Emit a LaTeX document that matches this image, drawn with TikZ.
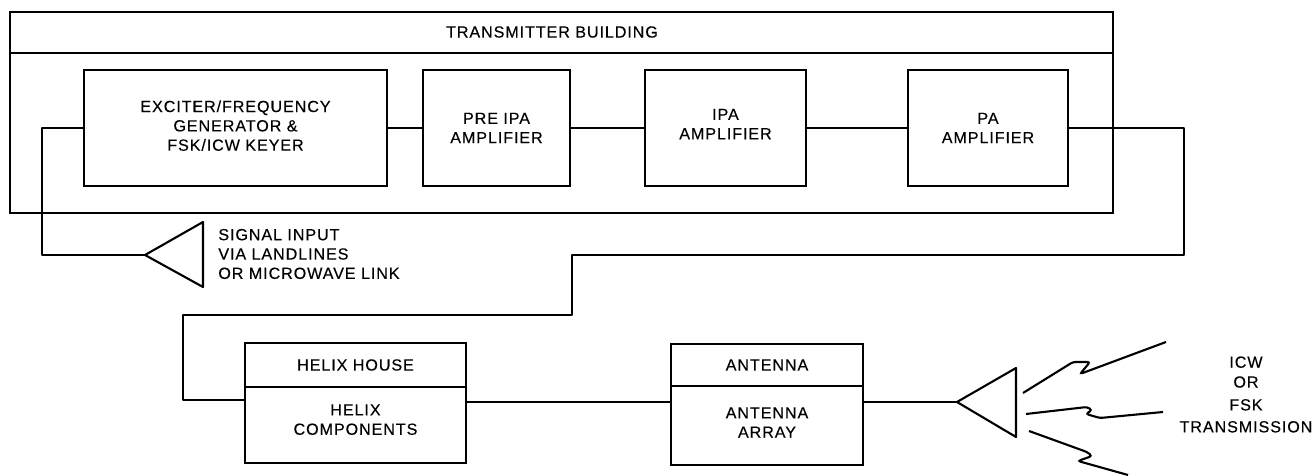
\documentclass[tikz,border=0pt]{standalone}
\usepackage{fontspec}
\setmainfont[LetterSpace=5.5,FakeBold=0.2]{Liberation Sans}
\tikzset{
  blockbox/.style={draw, line width=1.2pt, inner sep=0pt, align=center},
  wire/.style={line width=1.2pt, line join=round},
  bolt/.style={line width=1.2pt, rounded corners=1.5pt},
  caption/.style={inner sep=0pt, align=left}
}
\begin{document}
\begin{tikzpicture}[x=0.02cm, y=-0.02cm, font=\fontsize{9.2}{11}\selectfont]
\useasboundingbox (0,0) rectangle (1313,476);

%building
\node[blockbox, minimum width=22.06cm, minimum height=0.82cm] (buildinghead) at (561.5,32.5) {};
\node[blockbox, minimum width=22.06cm, minimum height=3.2cm] (buildingbody) at (561.5,133) {};
\node[inner sep=0pt] (buildingtitle) at (552,32) {TRANSMITTER BUILDING};

%blocks
\node[blockbox, minimum width=6.06cm, minimum height=2.32cm] (exciter) at (235.5,128) {EXCITER/FREQUENCY\\GENERATOR \&\\FSK/ICW KEYER\\[-8.2pt]\mbox{}};
\node[blockbox, minimum width=2.94cm, minimum height=2.32cm] (preipa) at (496.5,128) {PRE IPA\\AMPLIFIER};
\node[blockbox, minimum width=3.22cm, minimum height=2.32cm] (ipa) at (725.5,128) {IPA\\AMPLIFIER\\[-6.5pt]\mbox{}};
\node[blockbox, minimum width=3.2cm, minimum height=2.32cm] (pa) at (988,128) {PA\\AMPLIFIER};

%helix and antenna
\node[blockbox, minimum width=4.42cm, minimum height=0.88cm] (helixhouse) at (355.5,365) {HELIX HOUSE};
\node[blockbox, minimum width=4.42cm, minimum height=1.52cm] (helixparts) at (355.5,425) {HELIX\\COMPONENTS\\[-4.8pt]\mbox{}};
\node[blockbox, minimum width=3.84cm, minimum height=0.84cm] (antennahead) at (767,365) {ANTENNA};
\node[blockbox, minimum width=3.84cm, minimum height=1.58cm] (antennaarray) at (767,425.5) {ANTENNA\\ARRAY\\[-7.6pt]\mbox{}};

%triangles
\coordinate (signalapex) at (145,255);
\coordinate (radioapex) at (957,402);
\draw[wire] (signalapex)--(203,222)--(203,287)--cycle;
\draw[wire] (radioapex)--(1016,368)--(1016,437)--cycle;

%texts
\node[caption, anchor=west] (signaltext) at (218,254) {SIGNAL INPUT\\VIA LANDLINES\\OR MICROWAVE LINK};
\node[inner sep=0pt, align=center] (radiotext) at (1246,394.5) {ICW\\[0.3pt]OR\\[2pt]FSK\\[1.5pt]TRANSMISSION};

%connectors
\draw[wire] (exciter.east)--(preipa.west);
\draw[wire] (preipa.east)--(ipa.west);
\draw[wire] (ipa.east)--(pa.west);
\draw[wire] (exciter.west)--++(-41,0) |- (signalapex);
\coordinate (helixin) at (245,400);
\coordinate (helixout) at (466,402);
\coordinate (antennain) at (671,402);
\coordinate (antennaout) at (863,402);
\draw[wire] (pa.east) -| (1184,255) -| (572,315) -| (183,400)--(helixin);
\draw[wire] (helixout)--(antennain);
\draw[wire] (antennaout)--(radioapex);

%transmission
\draw[bolt] (1023,393)--(1073,362)--(1090,362)--(1080,374)--(1166,342);
\draw[bolt] (1026,414)--(1087,407)--(1092,410)--(1086,414)--(1100,418)--(1163,412);
\draw[bolt] (1029,431)--(1087,452)--(1092,456)--(1078,461)--(1128,475);
\end{tikzpicture}
\end{document}
